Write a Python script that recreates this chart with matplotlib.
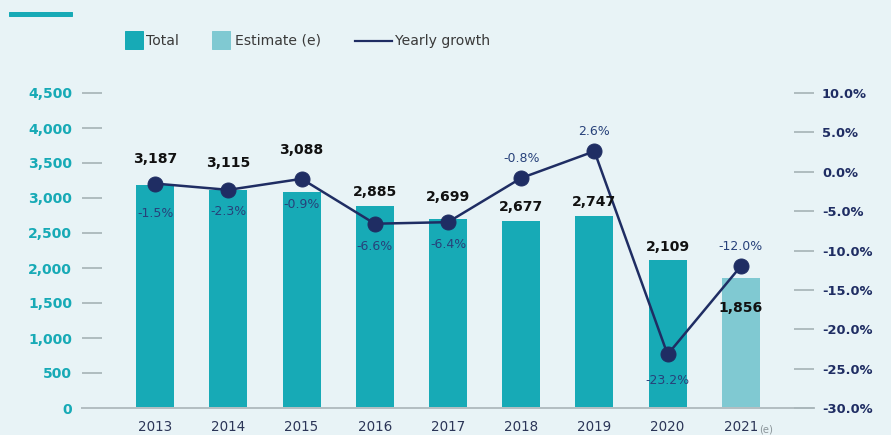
import matplotlib

matplotlib.use("Agg")
import matplotlib.pyplot as plt
from matplotlib.lines import Line2D
from matplotlib.patches import Rectangle
from matplotlib.ticker import FuncFormatter

# yearly totals (bars) and year-over-year growth in % (line)
years = ["2013", "2014", "2015", "2016", "2017", "2018", "2019", "2020", "2021"]
totals = [3187, 3115, 3088, 2885, 2699, 2677, 2747, 2109, 1856]
growth = [-1.5, -2.3, -0.9, -6.6, -6.4, -0.8, 2.6, -23.2, -12.0]
is_estimate = [False, False, False, False, False, False, False, False, True]

left_ticks = [0, 500, 1000, 1500, 2000, 2500, 3000, 3500, 4000, 4500]
right_ticks = [-30, -25, -20, -15, -10, -5, 0, 5, 10]

# label placement: value labels sit above the bar or the marker (px offsets)
value_anchor = ["point", "point", "point", "bar", "bar", "bar", "bar", "bar", "point"]
value_offset = [25, 27, 29, 14, 22, 14, 14, 13, -42]
growth_offset = [-30, -22, -26, -23, -22, 20, 20, -26, 20]

BG = "#e8f3f6"
TEAL = "#17aab6"
TEAL_LIGHT = "#80c9d2"
NAVY = "#1f2d63"
TICK = "#aab7bb"

W, H, DPI = 891, 435, 72  # 1 pt == 1 px at this dpi

fig = plt.figure(figsize=(W / DPI, H / DPI), dpi=DPI, facecolor=BG)
ax = fig.add_axes([82 / W, 1 - 408 / H, (814 - 82) / W, (408 - 93) / H])
ax.set_facecolor("none")
ax2 = ax.twinx()

xs = list(range(len(years)))
colors = [TEAL_LIGHT if e else TEAL for e in is_estimate]
ax.bar(xs, totals, width=0.52, color=colors, zorder=2)
ax.set_xlim(-1, len(years))
ax.set_ylim(0, 4500)
ax.set_yticks(left_ticks)
ax.yaxis.set_major_formatter(FuncFormatter(lambda v, _: f"{int(v):,}"))
ax.set_xticks(xs)
ax.set_xticklabels(years)

ax2.plot(xs, growth, color=NAVY, lw=2.5, marker="o", ms=15, zorder=3)
ax2.set_ylim(-30, 10)
ax2.set_yticks(right_ticks)
ax2.yaxis.set_major_formatter(FuncFormatter(lambda v, _: f"{v:.1f}%"))

for a in (ax, ax2):
    for side in ("top", "left", "right", "bottom"):
        a.spines[side].set_visible(False)
ax.spines["bottom"].set_visible(True)
ax.spines["bottom"].set_color("#b3bec2")
ax.spines["bottom"].set_linewidth(2)

ax.tick_params(axis="y", direction="in", length=20, width=1.8, color=TICK,
               pad=10, labelsize=14, labelcolor=TEAL)
ax2.tick_params(axis="y", direction="in", length=20, width=1.8, color=TICK,
                pad=8, labelsize=13, labelcolor=NAVY)
ax.tick_params(axis="x", length=0, pad=12, labelsize=13.5, labelcolor="#2b3557")
for lbl in ax.get_yticklabels() + ax2.get_yticklabels():
    lbl.set_fontweight("bold")

# small "(e)" marker next to the estimated year
ax.annotate("(e)", xy=(xs[-1], 0), xycoords=ax.transData, xytext=(18, -21),
            textcoords="offset points", ha="left", va="center", fontsize=10,
            color="#8a9499")

# value labels on bars
for x, v, g, anchor, off in zip(xs, totals, growth, value_anchor, value_offset):
    if anchor == "bar":
        xy, coords = (x, v), ax.transData
    else:
        xy, coords = (x, g), ax2.transData
    ax2.annotate(f"{v:,}", xy=xy, xycoords=coords, xytext=(0, off),
                 textcoords="offset points", ha="center", va="center",
                 fontsize=14, fontweight="bold", color="#111111", zorder=5)

# growth labels next to the markers
for x, g, off in zip(xs, growth, growth_offset):
    ax2.annotate(f"{g:.1f}%", xy=(x, g), xycoords=ax2.transData, xytext=(0, off),
                 textcoords="offset points", ha="center", va="center",
                 fontsize=12.5, color="#27417a", zorder=5)

# accent bar in the top-left corner
fig.patches.append(Rectangle((9 / W, 1 - 16 / H), 63 / W, 4 / H,
                             transform=fig.transFigure, color=TEAL))

# legend
ly = 1 - 41 / H
fig.patches.append(Rectangle((125 / W, 1 - 49 / H), 18 / W, 18 / H,
                             transform=fig.transFigure, color=TEAL))
fig.text(146 / W, ly, "Total", fontsize=14, color="#3a3a3a", va="center")
fig.patches.append(Rectangle((212 / W, 1 - 49 / H), 18 / W, 18 / H,
                             transform=fig.transFigure, color=TEAL_LIGHT))
fig.text(235 / W, ly, "Estimate (e)", fontsize=14, color="#3a3a3a", va="center")
fig.lines.append(Line2D([355 / W, 392 / W], [ly, ly], transform=fig.transFigure,
                        color=NAVY, lw=2.2))
fig.text(395 / W, ly, "Yearly growth", fontsize=14, color="#3a3a3a", va="center")

fig.savefig("out.png", dpi=DPI, facecolor=BG)
